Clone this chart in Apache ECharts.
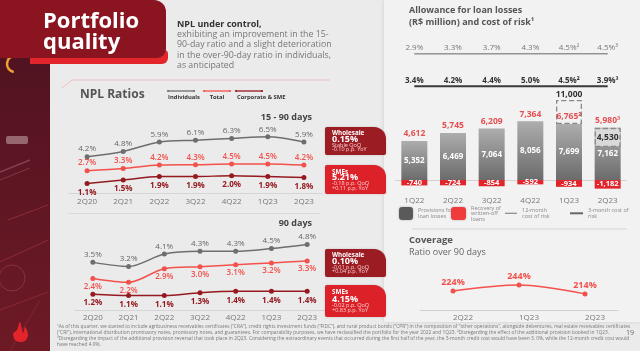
<!DOCTYPE html>
<html><head><meta charset="utf-8">
<script src="https://cdn.jsdelivr.net/npm/echarts@6/dist/echarts.min.js"></script>
<style>html,body{margin:0;padding:0;background:#ebebeb}#c{width:640px;height:351px}</style>
</head><body><div id="c"></div>
<script>
// ---------------- data ----------------
const nplCategories = ['2Q20','2Q21','2Q22','3Q22','4Q22','1Q23','2Q23'];
const npl15Individuals = [4.2,4.8,5.9,6.1,6.3,6.5,5.9];
const npl15Total       = [2.7,3.3,4.2,4.3,4.5,4.5,4.2];
const npl15Corporate   = [1.1,1.5,1.9,1.9,2.0,1.9,1.8];
const npl90Individuals = [3.5,3.2,4.1,4.3,4.3,4.5,4.8];
const npl90Total       = [2.4,2.2,2.9,3.0,3.1,3.2,3.3];
const npl90Corporate   = [1.2,1.1,1.1,1.3,1.4,1.4,1.4];

const allowanceCategories = ['1Q22','2Q22','3Q22','4Q22','1Q23','2Q23'];
const provisions   = [5352,6469,7064,8056,7699,7162];
const recoveries   = [-740,-724,-854,-592,-934,-1182];
const netAllowance = [4612,5745,6209,7364,6765,5980];
const netNotes     = ['','','','','²','³'];
const reportedProvisions = [null,null,null,null,11000,4530];
const costOfRisk12m = [2.9,3.3,3.7,4.3,4.5,4.5];
const costOfRisk12mNotes = ['','','','','²','³'];
const costOfRisk3m  = [3.4,4.2,4.4,5.0,4.5,3.9];
const costOfRisk3mNotes  = ['','','','','²','³'];

const coverageCategories = ['2Q22','1Q23','2Q23'];
const coverage = [224,244,214];

const segmentBoxes15 = [
  {title:'Wholesale', value:'0.15%', l1:'Stable QoQ', l2:'-0.10 p.p. YoY'},
  {title:'SMEs', value:'5.21%', l1:'-0.18 p.p. QoQ', l2:'+0.11 p.p. YoY'}
];
const segmentBoxes90 = [
  {title:'Wholesale', value:'0.10%', l1:'-0.01 p.p. QoQ', l2:'+0.04 p.p. YoY'},
  {title:'SMEs', value:'4.15%', l1:'-0.02 p.p. QoQ', l2:'+0.83 p.p. YoY'}
];

// ---------------- helpers ----------------
const FONT = '"Open Sans", sans-serif';
const fmtPct = v => (typeof v === 'object' ? v.value : v).toFixed(1) + '%';
const fmtNum = v => Math.round(v).toLocaleString('en-US');
const C_IND = '#6e6e6e', C_TOT = '#f2514c', C_CORP = '#951a20', C_RED = '#e1252b';

const chart = echarts.init(document.getElementById('c'), null, {renderer:'canvas', width:640, height:351});

function T(x, y, text, size, color, weight, align) {
  return {type:'text', x:x, y:y, z:10, style:{text:text, fill:color, align:align||'left', verticalAlign:'middle',
    font:(weight||'normal') + ' ' + size + 'px ' + FONT}};
}
function L(x1,y1,x2,y2,color,w){
  return {type:'line', z:1, shape:{x1:x1,y1:y1,x2:x2,y2:y2}, style:{stroke:color, lineWidth:w||1}};
}

const g = [];
// backgrounds
g.push({type:'rect', z:-10, shape:{x:384,y:0,width:256,height:322}, style:{fill:'#f2f2f2', shadowBlur:4, shadowColor:'rgba(0,0,0,0.12)'}});
g.push({type:'rect', z:-9, shape:{x:0,y:0,width:50,height:351}, style:{fill:new echarts.graphic.LinearGradient(0,0,0,1,[
  {offset:0,color:'#4a1220'},{offset:0.45,color:'#5c1523'},{offset:1,color:'#6d1a25'}])}});
// strip decoration
g.push({type:'rect', z:-8, shape:{x:6,y:136,width:22,height:8,r:2}, style:{fill:'rgba(225,205,205,0.45)'}});
g.push(L(0,172,30,160,'rgba(240,200,215,0.25)',1.5));
g.push(L(0,180,30,168,'rgba(240,200,215,0.2)',1));
g.push(L(8,220,48,205,'rgba(240,90,100,0.3)',1));
g.push(L(0,262,48,240,'rgba(240,90,100,0.3)',1));
g.push({type:'circle', z:-7, shape:{cx:12,cy:278,r:13}, style:{fill:'none', stroke:'rgba(255,120,140,0.25)', lineWidth:1}});
g.push(L(0,310,48,292,'rgba(240,90,100,0.25)',1));
g.push(L(10,351,40,300,'rgba(240,90,100,0.2)',1));
g.push({type:'arc', z:-7, shape:{cx:15,cy:64,r:8,startAngle:Math.PI*0.55,endAngle:Math.PI*1.45}, style:{stroke:'#f0a030', lineWidth:2.5, fill:'none'}});
// Santander flame
g.push({type:'polygon', z:5, shape:{smooth:0.35, points:[[13,334],[15,340],[20.5,342],[26,340],[28,334],[25,327],[23,333],[20,322],[17,330],[14.5,332]]}, style:{fill:'#e3242b'}});
g.push(L(15,336,26,336,'rgba(255,255,255,0.6)',0.8));

// title box
g.push({type:'rect', z:2, shape:{x:30,y:50,width:138,height:14,r:[0,4,6,0]}, style:{fill:'#e3262b'}});
g.push({type:'rect', z:3, shape:{x:0,y:0,width:166,height:58,r:[0,12,9,0]}, style:{fill:'#8b1421'}});
g.push(T(43,22,'Portfolio',22,'#ffffff','bold'));
g.push(T(43,43,'quality',22,'#ffffff','bold'));
g.push({type:'polyline', z:1, shape:{points:[[62,88],[72,80],[330,80]]}, style:{stroke:'rgba(232,130,130,0.5)', lineWidth:0.8, fill:'none'}});

// intro text
g.push(T(177,24.5,'NPL under control,',9,'#333','bold'));
g.push(T(177,34.5,'exhibiting an improvement in the 15-',8.8,'#777'));
g.push(T(177,44.8,'90-day ratio and a slight deterioration',8.8,'#777'));
g.push(T(177,55,'in the over-90-day ratio in individuals,',8.8,'#777'));
g.push(T(177,65.2,'as anticipated',8.8,'#777'));

// NPL header + legend
g.push(T(80,94.5,'NPL Ratios',12,'#555','bold'));
[[168,194,C_IND,'Individuals',168,'left'],[204,230,C_TOT,'Total',217,'center'],[236,262,C_CORP,'Corporate & SME',237,'left']].forEach(it=>{
  g.push(L(it[0],91,it[1],91,it[2],1.3));
  g.push({type:'circle', z:2, shape:{cx:it[0],cy:91,r:1.1}, style:{fill:it[2]}});
  g.push({type:'circle', z:2, shape:{cx:it[1],cy:91,r:1.1}, style:{fill:it[2]}});
  g.push(T(it[4],97.8,it[3],5.8,'#333','bold',it[5]));
});
g.push(T(312,117.5,'15 - 90 days',9,'#444','bold','right'));
g.push(T(312,223.5,'90 days',9,'#444','bold','right'));
g.push(L(68,213.5,320,213.5,'#d8d8d8',1));

// segment boxes
function box(y, h, color, b) {
  g.push({type:'rect', z:6, shape:{x:325,y:y,width:61,height:h,r:[2,12,2,2]}, style:{fill:color, shadowBlur:2, shadowColor:'rgba(0,0,0,0.2)'}});
  const s = h/28;
  g.push(T(332,y+6.5*s,b.title,6.3,'#fff','bold'));
  g.push(T(332,y+12.2*s,b.value,9,'#fff','bold'));
  g.push(T(332,y+18*s,b.l1,5.5,'#f6d0d2'));
  g.push(T(332,y+22.2*s,b.l2,5.5,'#f6d0d2'));
}
box(127,28,'#9c1c23',segmentBoxes15[0]);
box(165,29,'#dc2129',segmentBoxes15[1]);
box(249,28,'#9c1c23',segmentBoxes90[0]);
box(285,32,'#dc2129',segmentBoxes90[1]);

// right panel texts
g.push(T(409,10.5,'Allowance for loan losses',9,'#555','bold'));
g.push(T(409,22.5,'(R$ million) and cost of risk¹',9,'#555','bold'));
g.push(L(412,229,627,229,'#d5d5d5',1));
g.push(T(409,240,'Coverage',9.5,'#555','bold'));
g.push(T(409,252.5,'Ratio over 90 days',9,'#666'));

// footnotes
const foot = [
 '¹As of this quarter, we started to include agribusiness receivables certificates (“CRA”), credit rights investment funds (“FIDC”), and rural product bonds (“CPR”) in the composition of “other operations”, alongside debentures, real estate receivables certificates',
 '(“CRI”), international distribution promissory notes, promissory notes, and guarantees. For comparability purposes, we have reclassified the portfolio for the year 2022 and 1Q23. ²Disregarding the effect of the additional provision booked in 1Q23.',
 '³Disregarding the impact of the additional provision reversal that took place in 2Q23. Considering the extraordinary events that occurred during the first half of the year, the 3-month credit cost would have been 3. 0%, while the 12-month credit cost would',
 'have reached 4.9%.'
];
foot.forEach((t,i)=>g.push(T(57,327+i*6,t,4.85,'#777')));
g.push(T(630,333,'19',7,'#666','normal','center'));

// ---------------- option ----------------
const lbl = (pos, dist, color, weight, size, fmt) => ({show:true, position:pos, distance:dist, color:color, fontWeight:weight, fontSize:size||8, fontFamily:FONT, formatter:fmt||(p=>fmtPct(p.value))});
const nplLine = (name, x, y, data, color, label) => ({type:'line', name:name, xAxisIndex:x, yAxisIndex:y, data:data, smooth:0.3,
  symbol:'circle', symbolSize:5, itemStyle:{color:color}, lineStyle:{color:color, width:1.5}, label:label, z:4});

const dashedBase = reportedProvisions.map((r,i)=> r==null ? '-' : Math.min(r, provisions[i]));
const dashedSpan = reportedProvisions.map((r,i)=>{
  if (r==null) return '-';
  const above = r > provisions[i];
  return {value:Math.abs(r-provisions[i]),
    itemStyle:{color: above ? 'rgba(0,0,0,0)' : 'rgba(222,222,222,0.92)'},
    label:{show:true, position: above ? 'top' : 'inside', distance:1, formatter: fmtNum(r)}};
});

const legendBase = {padding:0, selectedMode:false, itemGap:0, textStyle:{fontSize:5.5, lineHeight:5.6, color:'#888', fontFamily:FONT}};
const cat = (grid, data, extra) => Object.assign({type:'category', gridIndex:grid, data:data, boundaryGap:true, axisTick:{show:false},
  axisLine:{lineStyle:{color:'#d5d5d5'}}, axisLabel:{color:'#777', fontSize:8, fontFamily:FONT}}, extra||{});
const val = (grid, min, max) => ({type:'value', gridIndex:grid, min:min, max:max, show:false});

const option = {
  animation:false,
  backgroundColor:'#ebebeb',
  textStyle:{fontFamily:FONT},
  graphic:{elements:g},
  legend:[
    Object.assign({}, legendBase, {left:399, top:207, itemWidth:14, itemHeight:13,
      data:[{name:'Provisions for\nloan losses', icon:'roundRect', itemStyle:{color:'#5a5a5a', shadowBlur:2, shadowColor:'rgba(0,0,0,0.3)'}}]}),
    Object.assign({}, legendBase, {left:451, top:205, itemWidth:15, itemHeight:13,
      data:[{name:'Recovery of\nwritten-off\nloans', icon:'roundRect', itemStyle:{color:'#ef3b3b', shadowBlur:2, shadowColor:'rgba(0,0,0,0.3)'}}]}),
    Object.assign({}, legendBase, {left:505, top:207.5, itemWidth:12, itemHeight:1.2,
      data:[{name:'12-month\ncost of risk', icon:'rect', itemStyle:{color:'#888'}}]}),
    Object.assign({}, legendBase, {left:570, top:207.5, itemWidth:13, itemHeight:2,
      data:[{name:'3-month cost of\nrisk', icon:'rect', itemStyle:{color:'#666'}}]})
  ],
  grid:[
    {left:69, right:318, top:130, bottom:158},
    {left:75, right:315, top:240, bottom:40.3},
    {left:395, right:13, top:92.6, bottom:156.4},
    {left:395, right:13, top:50, bottom:293},
    {left:395, right:13, top:82.5, bottom:260.5},
    {left:420, right:22, top:270, bottom:41}
  ],
  xAxis:[
    cat(0, nplCategories, {axisLabel:{color:'#777', fontSize:8, margin:4.5, fontFamily:FONT}}),
    cat(1, nplCategories, {axisLabel:{color:'#777', fontSize:8, margin:3, fontFamily:FONT}}),
    cat(2, allowanceCategories, {axisLine:{show:false, onZero:false}, axisLabel:{color:'#777', fontSize:8, margin:2, fontFamily:FONT}}),
    cat(3, allowanceCategories, {show:false}),
    cat(4, allowanceCategories, {show:false}),
    cat(5, coverageCategories, {axisLine:{lineStyle:{color:'#cfcfcf'}}, axisLabel:{color:'#777', fontSize:8, margin:4, padding:[0,0,0,20], fontFamily:FONT}})
  ],
  yAxis:[
    val(0, 0, 7.28),
    val(0, -3.3, 13.65),
    val(1, 0, 5.12),
    val(1, 0.736, 4.38),
    val(2, -2000, 12000),
    val(3, -100, 100),
    val(4, -100, 100),
    val(5, 160, 294)
  ],
  series:[
    nplLine('Individuals', 0, 0, npl15Individuals, C_IND, lbl('top', 1, '#666', 'normal')),
    nplLine('Total', 0, 1, npl15Total, C_TOT, lbl('top', 1, C_TOT, 600)),
    nplLine('Corporate & SME', 0, 0, npl15Corporate, C_CORP, lbl('bottom', 2.5, C_CORP, 'bold')),
    nplLine('Individuals', 1, 2, npl90Individuals, C_IND, lbl('top', 1, '#666', 'normal')),
    nplLine('Total', 1, 3, npl90Total, C_TOT, lbl('bottom', 1.5, C_TOT, 600)),
    nplLine('Corporate & SME', 1, 2, npl90Corporate, C_CORP, lbl('bottom', 2.5, C_CORP, 'bold')),

    {type:'bar', name:'Provisions for\nloan losses', xAxisIndex:2, yAxisIndex:4, stack:'a', barWidth:26, barGap:'-100%', data:provisions,
      itemStyle:{color:new echarts.graphic.LinearGradient(0,0,0,1,[{offset:0,color:'#adadad'},{offset:1,color:'#6b6b6b'}])},
      label:{show:true, position:'inside', color:'#fff', fontWeight:'bold', fontSize:8, fontFamily:FONT, formatter:p=>fmtNum(p.value)},
      markLine:{silent:true, symbol:'none', label:{show:false}, lineStyle:{color:'#d2d2d2', type:'solid', width:1}, data:[{yAxis:0}], z:0}},
    {type:'bar', name:'Recovery of\nwritten-off\nloans', xAxisIndex:2, yAxisIndex:4, stack:'a', barWidth:26, barGap:'-100%', data:recoveries,
      itemStyle:{color:C_RED},
      label:{show:true, position:'inside', color:'#fff', fontWeight:'bold', fontSize:7.5, fontFamily:FONT, formatter:p=>fmtNum(p.value)}},
    {type:'bar', name:'reportedBase', xAxisIndex:2, yAxisIndex:4, stack:'b', barWidth:26, barGap:'-100%', data:dashedBase, silent:true,
      itemStyle:{color:'rgba(0,0,0,0)'}},
    {type:'bar', name:'reported', xAxisIndex:2, yAxisIndex:4, stack:'b', barWidth:26, barGap:'-100%', data:dashedSpan, z:3,
      itemStyle:{borderType:'dashed', borderColor:'#8a8a8a', borderWidth:1.3},
      label:{color:'#333', fontWeight:'bold', fontSize:8.5, fontFamily:FONT}},
    {type:'scatter', name:'net', xAxisIndex:2, yAxisIndex:4, data:provisions, symbolSize:1, itemStyle:{color:'rgba(0,0,0,0)'}, z:6,
      label:{show:true, position:'top', distance:2, color:C_RED, fontWeight:'bold', fontSize:8.5, fontFamily:FONT,
        formatter:p=>fmtNum(netAllowance[p.dataIndex]) + netNotes[p.dataIndex]}},

    {type:'line', name:'12-month\ncost of risk', xAxisIndex:3, yAxisIndex:5, data:costOfRisk12m, symbol:'circle', symbolSize:0.5,
      itemStyle:{color:'#888'}, lineStyle:{color:'#666', width:1},
      label:{show:true, position:'top', distance:2, color:'#777', fontSize:8, fontFamily:FONT, formatter:p=>fmtPct(p.value)+costOfRisk12mNotes[p.dataIndex]}},
    {type:'line', name:'3-month cost of\nrisk', xAxisIndex:4, yAxisIndex:6, data:costOfRisk3m, symbol:'circle', symbolSize:0.5,
      itemStyle:{color:'#555'}, lineStyle:{color:'#3a3a3a', width:2},
      label:{show:true, position:'top', distance:1.5, color:'#333', fontWeight:'bold', fontSize:8, fontFamily:FONT, formatter:p=>fmtPct(p.value)+costOfRisk3mNotes[p.dataIndex]}},

    {type:'line', name:'Coverage', xAxisIndex:5, yAxisIndex:7, data:coverage, smooth:0.3, symbol:'circle', symbolSize:5,
      itemStyle:{color:C_TOT}, lineStyle:{color:C_TOT, width:1.5},
      label:{show:true, position:'top', distance:1.5, color:C_TOT, fontWeight:'bold', fontSize:9, fontFamily:FONT, formatter:p=>p.value+'%'}}
  ]
};
chart.setOption(option);
</script>
</body></html>
